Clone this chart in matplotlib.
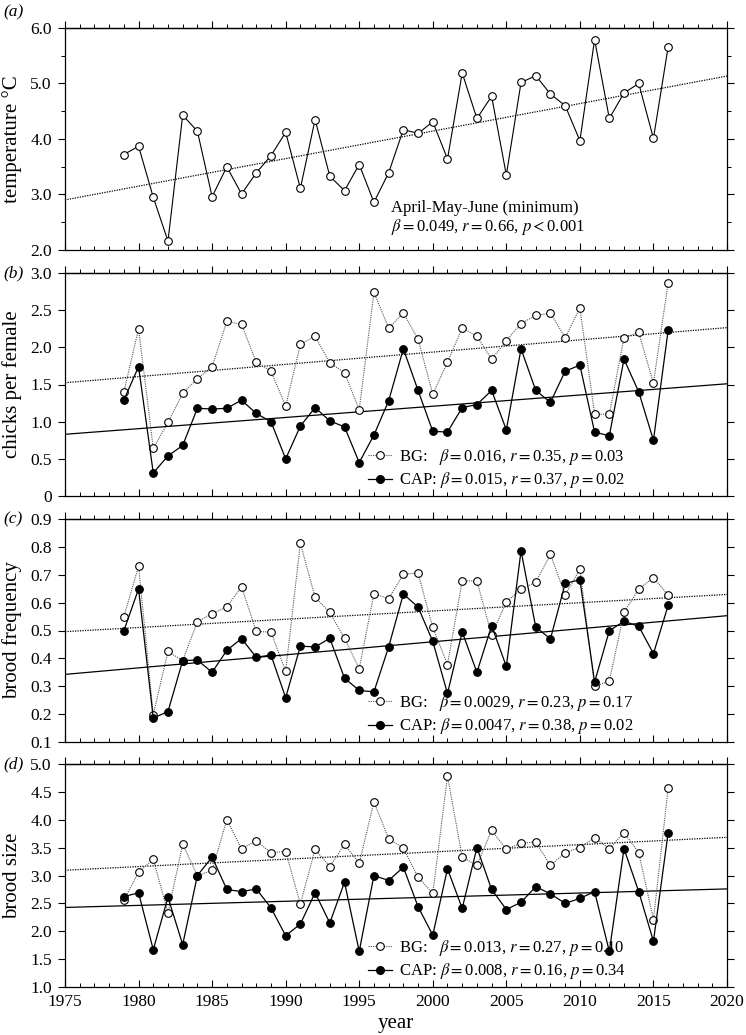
import numpy as np
import matplotlib
matplotlib.use("Agg")
import matplotlib.pyplot as plt
from matplotlib.ticker import MultipleLocator, FuncFormatter
from matplotlib.lines import Line2D

plt.rcParams['font.family'] = ['Liberation Serif', 'DejaVu Serif']
plt.rcParams['mathtext.fontset'] = 'stix'
plt.rcParams['font.size'] = 12

years = np.arange(1979, 2017)

# (a) April-May-June minimum temperature
temp = [3.72, 3.87, 2.95, 2.16, 4.43, 4.14, 2.96, 3.50, 3.01, 3.39,
        3.70, 4.12, 3.11, 4.35, 3.33, 3.07, 3.54, 2.86, 3.39, 4.17,
        4.10, 4.31, 3.64, 5.19, 4.37, 4.77, 3.35, 5.02, 5.14, 4.81,
        4.60, 3.97, 5.79, 4.37, 4.83, 5.00, 4.01, 5.66]

# (b) chicks per female
chicks_bg = [1.40, 2.25, 0.64, 0.99, 1.38, 1.58, 1.74, 2.35, 2.31, 1.80,
             1.68, 1.21, 2.04, 2.15, 1.79, 1.66, 1.16, 2.74, 2.26, 2.46,
             2.11, 1.37, 1.80, 2.26, 2.15, 1.84, 2.09, 2.32, 2.43, 2.46,
             2.13, 2.53, 1.10, 1.10, 2.13, 2.20, 1.52, 2.87]
chicks_cap = [1.29, 1.74, 0.31, 0.54, 0.68, 1.18, 1.17, 1.18, 1.29, 1.11,
              1.00, 0.50, 0.94, 1.19, 1.01, 0.93, 0.45, 0.82, 1.28, 1.98,
              1.42, 0.87, 0.86, 1.19, 1.23, 1.42, 0.89, 1.98, 1.42, 1.26,
              1.68, 1.76, 0.86, 0.81, 1.84, 1.40, 0.75, 2.23]

# (c) brood frequency
freq_bg = [0.549, 0.731, 0.198, 0.425, 0.392, 0.532, 0.560, 0.585, 0.657, 0.497,
           0.494, 0.354, 0.813, 0.619, 0.565, 0.472, 0.363, 0.632, 0.614, 0.702,
           0.706, 0.511, 0.378, 0.678, 0.678, 0.483, 0.603, 0.648, 0.673, 0.773,
           0.627, 0.720, 0.300, 0.318, 0.565, 0.648, 0.690, 0.627]
freq_cap = [0.499, 0.649, 0.186, 0.209, 0.392, 0.394, 0.350, 0.429, 0.471, 0.404,
            0.412, 0.259, 0.444, 0.441, 0.472, 0.329, 0.285, 0.280, 0.441, 0.631,
            0.584, 0.461, 0.274, 0.495, 0.350, 0.517, 0.371, 0.786, 0.512, 0.470,
            0.669, 0.682, 0.315, 0.499, 0.533, 0.515, 0.417, 0.590]

# (d) brood size
size_bg = [2.56, 3.06, 3.29, 2.33, 3.56, 3.00, 3.09, 4.00, 3.48, 3.62,
           3.41, 3.43, 2.49, 3.47, 3.16, 3.56, 3.22, 4.32, 3.66, 3.49,
           2.97, 2.68, 4.78, 3.33, 3.18, 3.81, 3.47, 3.58, 3.60, 3.18,
           3.41, 3.50, 3.68, 3.48, 3.77, 3.41, 2.21, 4.57]
size_cap = [2.62, 2.69, 1.67, 2.61, 1.76, 3.00, 3.33, 2.75, 2.71, 2.76,
            2.42, 1.92, 2.13, 2.69, 2.15, 2.88, 1.64, 3.00, 2.91, 3.15,
            2.44, 1.93, 3.12, 2.41, 3.50, 2.75, 2.39, 2.52, 2.80, 2.67,
            2.50, 2.59, 2.71, 1.64, 3.48, 2.71, 1.82, 3.77]

# regression stats shown in the legends
bg_stats = [("0.016", "0.35", "= 0.03"), ("0.0029", "0.23", "= 0.17"), ("0.013", "0.27", "= 0.10")]
cap_stats = [("0.015", "0.37", "= 0.02"), ("0.0047", "0.38", "= 0.02"), ("0.008", "0.16", "= 0.34")]
temp_stats = ("0.049", "0.66", "< 0.001")


def stat_text(b, r, p):
    rel, val = p.split(" ")
    eq = r"${=}$"
    return (r"$\beta$" + eq + b + ", " + r"$r$" + eq + r + ", " + r"$p$" +
            (eq if rel == "=" else r"${<}$") + val)


W, H = 746, 1035
fig = plt.figure(figsize=(W / 100, H / 100), dpi=100)
left, right = 65, 727
tops = [28, 273, 519, 764]
bottoms = [250, 496, 742, 987]
axes = []
for t, b in zip(tops, bottoms):
    axes.append(fig.add_axes([left / W, 1 - b / H, (right - left) / W, (b - t) / H]))

xfit = np.array([1975, 2020])


def trend(ax, y, ls):
    k, c = np.polyfit(years, y, 1)
    ax.plot(xfit, k * xfit + c, color='black', ls=ls, lw=0.9)


def style(ax, ylim, major, minor, fmt, last):
    ax.set_xlim(1975, 2020)
    ax.set_ylim(*ylim)
    ax.xaxis.set_major_locator(MultipleLocator(5))
    ax.xaxis.set_minor_locator(MultipleLocator(1))
    ax.yaxis.set_major_locator(MultipleLocator(major))
    ax.yaxis.set_minor_locator(MultipleLocator(minor))
    ax.yaxis.set_major_formatter(FuncFormatter(fmt))
    ax.tick_params(axis='x', which='major', direction='in', length=5, width=0.8,
                   labelbottom=last, pad=5, labelsize=12.5)
    ax.tick_params(axis='x', which='minor', direction='in', length=3, width=0.7)
    ax.tick_params(axis='y', which='major', direction='out', length=5, width=0.8,
                   right=True, pad=4.5, labelsize=12.5)
    ax.tick_params(axis='y', which='minor', direction='out', length=3, width=0.7,
                   right=True)
    top = ax.secondary_xaxis('top')
    top.xaxis.set_major_locator(MultipleLocator(5))
    top.xaxis.set_minor_locator(MultipleLocator(1))
    top.tick_params(axis='x', which='major', direction='out', length=5, width=0.8,
                    labeltop=False)
    top.tick_params(axis='x', which='minor', direction='out', length=3, width=0.7)
    top.spines['top'].set_linewidth(0.9)
    for s in ax.spines.values():
        s.set_linewidth(0.9)


f1 = lambda v, p: f"{v:.1f}"
f0 = lambda v, p: "0" if abs(v) < 1e-9 else f"{v:.1f}"

# panel (a)
ax = axes[0]
ax.plot(years, temp, color='black', lw=0.8, marker='o', ms=5.5,
        mfc='white', mec='black', mew=0.8, zorder=3)
trend(ax, temp, (0, (1, 1)))
style(ax, (2.0, 6.0), 1.0, 0.5, f1, False)
ax.set_ylabel("temperature °C", fontsize=15, labelpad=6)
ax.text(0.492, 0.189, "April-May-June (minimum)", transform=ax.transAxes,
        fontsize=12, ha='left', va='center')
ax.text(0.492, 0.104, stat_text(*temp_stats), transform=ax.transAxes,
        fontsize=12, ha='left', va='center')

panels = [(chicks_bg, chicks_cap, (0, 3.0), 0.5, 0.5, f0, "chicks per female"),
          (freq_bg, freq_cap, (0.1, 0.9), 0.1, 0.1, f1, "brood frequency"),
          (size_bg, size_cap, (1.0, 5.0), 0.5, 0.5, f1, "brood size")]

for i, (bg, cap, yl, mj, mn, fmt, lab) in enumerate(panels):
    ax = axes[i + 1]
    ax.plot(years, bg, color='#555555', lw=0.8, ls=(0, (1, 1)), marker='o', ms=5.5,
            mfc='white', mec='black', mew=0.8, zorder=3)
    ax.plot(years, cap, color='black', lw=0.9, marker='o', ms=5.5,
            mfc='black', mec='black', mew=0.8, zorder=4)
    trend(ax, bg, (0, (1, 1)))
    trend(ax, cap, '-')
    style(ax, yl, mj, mn, fmt, i == 2)
    ax.set_ylabel(lab, fontsize=15, labelpad=6)
    h_bg = Line2D([], [], color='#555555', lw=0.8, ls=(0, (1, 1)), marker='o', ms=5.5,
                  mfc='white', mec='black', mew=0.8)
    h_cap = Line2D([], [], color='black', lw=0.9, marker='o', ms=5.5,
                   mfc='black', mec='black')
    ax.legend([h_bg, h_cap],
              ["BG:   " + stat_text(*bg_stats[i]), "CAP: " + stat_text(*cap_stats[i])],
              loc='lower left', bbox_to_anchor=(0.458, 0.025), frameon=False,
              fontsize=12, handlelength=1.4, handletextpad=0.45, labelspacing=0.2,
              borderpad=0, borderaxespad=0)

axes[3].set_xlabel("year", fontsize=15, labelpad=3)

for t, lab in zip([12, 273, 519, 764], ["(a)", "(b)", "(c)", "(d)"]):
    fig.text(3 / W, 1 - t / H, lab, fontsize=12.5, style='italic', va='center')

fig.savefig("out.png", dpi=100)
